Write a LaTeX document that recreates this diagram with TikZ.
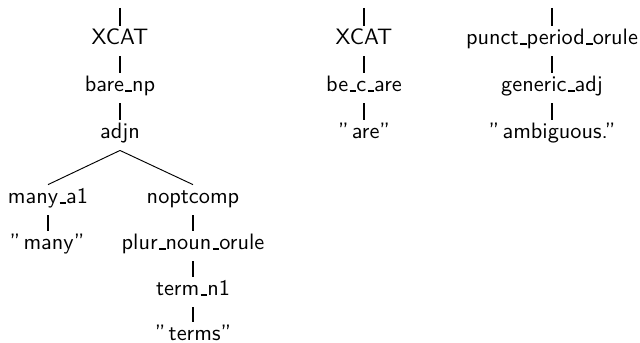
\documentclass[tikz,border=0pt]{standalone}
\newcommand\usc{\leavevmode\kern.06em\vbox{\hrule width.3em height .75pt}}
\newcommand\oq{''\kern.15em}
\tikzset{
  tn/.style={font=\fontsize{10.7}{12}\sffamily, inner sep=0pt, text height=9.1pt, text depth=5.3pt, anchor=base},
  vbar/.style={line width=0.7pt},
  dbar/.style={line width=0.45pt}
}
\begin{document}
\begin{tikzpicture}[x=0.48pt,y=-0.48pt]
\useasboundingbox (0,0) rectangle (640,343);
% first tree
\coordinate (ta) at (120,8);
\node[tn] (xa) at (120,45) {XCAT};
\node[tn] (bnp) at (120,92) {bare\usc np};
\node[tn] (adjn) at (120,139) {adjn};
\node[tn] (many) at (48,204) {many\usc a1};
\node[tn] (nopt) at (193,204) {noptcomp};
\node[tn] (qmany) at (47,250) {\oq many''};
\node[tn] (plur) at (193,250) {plur\usc noun\usc orule};
\node[tn] (term) at (193,296) {term\usc n1};
\node[tn] (qterms) at (193,341) {\oq terms''};
\draw[vbar] (ta) -- (xa.north);
\draw[vbar] (xa.south) -- (bnp.north);
\draw[vbar] (bnp.south) -- (adjn.north);
\draw[dbar] (adjn.south) -- (many.north);
\draw[dbar] (adjn.south) -- (nopt.north);
\draw[vbar] (many.south) -- (qmany.north -| many.south);
\draw[vbar] (nopt.south) -- (plur.north);
\draw[vbar] (plur.south) -- (term.north);
\draw[vbar] (term.south) -- (qterms.north -| term.south);
% second tree
\coordinate (tb) at (364,8);
\node[tn] (xb) at (364,45) {XCAT};
\node[tn] (be) at (364,92) {be\usc c\usc are};
\node[tn] (qare) at (364,139) {\oq are''};
\draw[vbar] (tb) -- (xb.north);
\draw[vbar] (xb.south) -- (be.north);
\draw[vbar] (be.south) -- (qare.north -| be.south);
% third tree
\coordinate (tc) at (552,8);
\node[tn] (punct) at (552,45) {punct\usc period\usc orule};
\node[tn] (gen) at (552,92) {generic\usc adj};
\node[tn] (qamb) at (552,139) {\oq ambiguous.''};
\draw[vbar] (tc) -- (punct.north);
\draw[vbar] (punct.south) -- (gen.north);
\draw[vbar] (gen.south) -- (qamb.north -| gen.south);
\end{tikzpicture}
\end{document}
